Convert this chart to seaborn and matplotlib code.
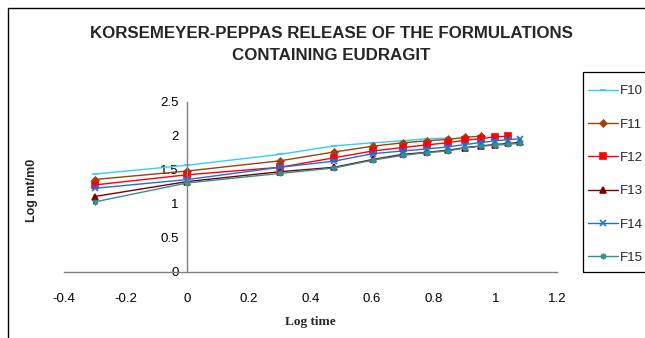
import numpy as np
import pandas as pd
import matplotlib
matplotlib.use("Agg")
import matplotlib.pyplot as plt
import seaborn as sns
from matplotlib.patches import Rectangle
from matplotlib.ticker import FuncFormatter

log_time = [-0.301, 0.0, 0.301, 0.477, 0.602, 0.699, 0.778, 0.845, 0.903, 0.954, 1.0, 1.041, 1.079]

F10 = [1.44, 1.57, 1.73, 1.855, 1.90, 1.93, 1.96, 1.97]
F11 = [1.36, 1.485, 1.635, 1.765, 1.85, 1.90, 1.93, 1.95, 1.98, 2.0]
F12 = [1.28, 1.43, 1.54, 1.68, 1.78, 1.83, 1.87, 1.90, 1.94, 1.96, 1.99, 1.995]
F13 = [1.11, 1.33, 1.475, 1.54, 1.655, 1.73, 1.76, 1.79, 1.83, 1.855, 1.875, 1.89, 1.905]
F14 = [1.23, 1.36, 1.54, 1.63, 1.74, 1.78, 1.81, 1.84, 1.875, 1.905, 1.93, 1.945, 1.96]
F15 = [1.03, 1.31, 1.45, 1.53, 1.645, 1.715, 1.755, 1.78, 1.825, 1.85, 1.865, 1.88, 1.89]

series = {"F10": F10, "F11": F11, "F12": F12, "F13": F13, "F14": F14, "F15": F15}
colors = {"F10": "#33CCFF", "F11": "#A0400A", "F12": "#FF0000",
          "F13": "#800000", "F14": "#1E6FE0", "F15": "#2E9090"}
markers = {"F10": "_", "F11": "D", "F12": "s", "F13": "^", "F14": "x", "F15": (6, 2, 0)}
msizes = {"F10": 5, "F11": 3.4, "F12": 4, "F13": 4.2, "F14": 3.8, "F15": 4}

rows = []
for name, vals in series.items():
    for t, v in zip(log_time, vals):
        rows.append({"Log time": t, "Log mt/m0": v, "Formulation": name})
df = pd.DataFrame(rows)

sns.set_style("white")
plt.rcParams["font.family"] = ["Liberation Sans", "DejaVu Sans"]

fig = plt.figure(figsize=(6.45, 3.38), dpi=100)
ax = fig.add_axes([64/645, 66/338, (557-64)/645, (272-102)/338])

for name in series:
    sub = df[df["Formulation"] == name]
    sns.lineplot(data=sub, x="Log time", y="Log mt/m0", ax=ax, color=colors[name],
                 marker=markers[name], markersize=msizes[name],
                 markeredgecolor=colors[name], markerfacecolor=colors[name],
                 markeredgewidth=1.2, linewidth=1.0, label=name, sort=False)

ax.set_xlim(-0.4, 1.2)
ax.set_ylim(0, 2.5)
ax.set_xticks(np.round(np.arange(-0.4, 1.21, 0.2), 1))
ax.set_yticks(np.round(np.arange(0, 2.51, 0.5), 1))
fmt = FuncFormatter(lambda v, p: "%g" % round(v, 1) if abs(v) > 1e-9 else "0")
ax.xaxis.set_major_formatter(fmt)
ax.yaxis.set_major_formatter(fmt)

for s in ["top", "right"]:
    ax.spines[s].set_visible(False)
ax.spines["left"].set_position(("data", 0))
for s in ["left", "bottom"]:
    ax.spines[s].set_color("#808080")
    ax.spines[s].set_linewidth(1.0)
ax.tick_params(axis="both", which="major", direction="out", length=4, width=1,
               color="#808080", labelsize=9.5, labelcolor="black", pad=2)
ax.tick_params(axis="x", pad=11)
ax.set_facecolor("none")

ax.set_xlabel("Log time", fontfamily="Liberation Serif", fontweight="bold", fontsize=9.5, labelpad=8)
ax.set_ylabel("")
fig.text(32/645, 1 - 190/338, "Log mt/m0", rotation=90, ha="center", va="center",
         fontsize=9, fontweight="bold")

fig.text(331/645, 1 - 33/338, "KORSEMEYER-PEPPAS RELEASE OF THE FORMULATIONS",
         ha="center", va="center", fontsize=12.2, fontweight="bold")
fig.text(331/645, 1 - 55/338, "CONTAINING EUDRAGIT",
         ha="center", va="center", fontsize=12.2, fontweight="bold")

handles, labels = ax.get_legend_handles_labels()
leg = fig.legend(handles, labels, loc="upper left", bbox_to_anchor=(588/645, 1 - 85/338),
                 frameon=False, fontsize=9.5,
                 handlelength=2.25, labelspacing=1.6, borderpad=0, handletextpad=0.15,
                 borderaxespad=0)
if ax.get_legend():
    ax.get_legend().remove()

# legend frame
fig.patches.append(Rectangle((583/645, 1 - 272/338), 0.2, 200/338, transform=fig.transFigure,
                             fill=False, edgecolor="black", linewidth=0.9, zorder=0))
# chart area border
fig.patches.append(Rectangle((8/645, -0.1), 1.2, 1 - 8/338 + 0.1, transform=fig.transFigure,
                             fill=False, edgecolor="black", linewidth=1.0, zorder=0))

fig.savefig("out.png", dpi=100)
